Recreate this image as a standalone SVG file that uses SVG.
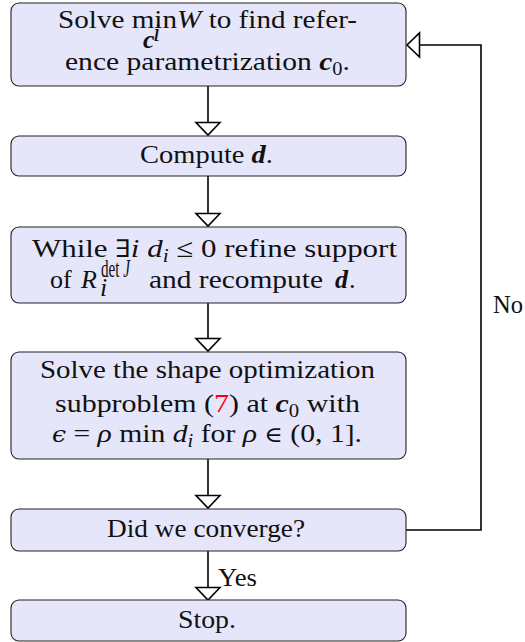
<svg xmlns="http://www.w3.org/2000/svg" width="525" height="642" viewBox="0 0 525 642">
<style>
.box{fill:#e6e6fb;stroke:#222;stroke-width:1.1}
.t{font-family:"Liberation Serif","DejaVu Serif",serif;font-size:26px;fill:#111}
.i{font-style:italic}
.b{font-style:italic;font-weight:bold}
.s{font-size:18px}
.conn{fill:none;stroke:#000;stroke-width:1.6}
</style>
<defs>
<marker id="ah" markerUnits="userSpaceOnUse" markerWidth="16" markerHeight="28" viewBox="0 0 16 28" refX="14" refY="14" orient="auto">
<path d="M1.5,2 L14,14 L1.5,26 Z" fill="#fff" stroke="#000" stroke-width="1.6" stroke-linejoin="miter"/>
</marker>
</defs>
<rect width="525" height="642" fill="#fff"/>
<g id="connectors">
<path class="conn" d="M208,86 V135" marker-end="url(#ah)"/>
<path class="conn" d="M208,176 V226" marker-end="url(#ah)"/>
<path class="conn" d="M208,303 V351" marker-end="url(#ah)"/>
<path class="conn" d="M208,459 V508" marker-end="url(#ah)"/>
<path class="conn" d="M208,551 V600" marker-end="url(#ah)"/>
<path class="conn" d="M406,530 H481 V45 H407" marker-end="url(#ah)"/>
<text class="t" x="218" y="586" textLength="39" lengthAdjust="spacingAndGlyphs">Yes</text>
<text class="t" x="493" y="313" textLength="30" lengthAdjust="spacingAndGlyphs">No</text>
</g>
<g id="n1">
<rect class="box" x="11" y="3" width="395" height="83" rx="8"/>
<text class="t" x="58" y="28" textLength="299" lengthAdjust="spacingAndGlyphs">Solve min<tspan class="i">W</tspan> to find refer-</text>
<text class="t b" x="143" y="48" font-size="16">c</text>
<text class="t i" x="153" y="41" font-size="11">i</text>
<text class="t" x="65" y="70" textLength="285" lengthAdjust="spacingAndGlyphs">ence parametrization <tspan class="b">c</tspan><tspan class="s" dy="5">0</tspan><tspan dy="-5">.</tspan></text>
</g>
<g id="n2">
<rect class="box" x="11" y="136" width="395" height="40" rx="8"/>
<text class="t" x="140" y="163" textLength="133" lengthAdjust="spacingAndGlyphs">Compute <tspan class="b">d</tspan>.</text>
</g>
<g id="n3">
<rect class="box" x="11" y="227" width="395" height="76" rx="8"/>
<text class="t" x="32" y="257" textLength="365" lengthAdjust="spacingAndGlyphs">While <tspan font-family="DejaVu Serif" font-size="24">∃</tspan><tspan class="i">i</tspan> <tspan class="i">d</tspan><tspan class="i s" dy="5">i</tspan><tspan dy="-5"> ≤ 0 refine support</tspan></text>
<text class="t" x="50" y="288">of</text>
<text class="t i" x="81" y="288">R</text>
<text class="t" x="101" y="277" font-size="16" textLength="29" lengthAdjust="spacingAndGlyphs">det <tspan class="i">J</tspan></text>
<text class="t i" x="100" y="296" font-size="16">i</text>
<text class="t" x="149" y="288" textLength="174" lengthAdjust="spacingAndGlyphs">and recompute</text>
<text class="t b" x="335" y="288">d</text>
<text class="t" x="349" y="288">.</text>
</g>
<g id="n4">
<rect class="box" x="11" y="352" width="395" height="107" rx="8"/>
<text class="t" x="40" y="378" textLength="335" lengthAdjust="spacingAndGlyphs">Solve the shape optimization</text>
<text class="t" x="55" y="412" textLength="305" lengthAdjust="spacingAndGlyphs">subproblem (<tspan fill="#ff0000">7</tspan>) at <tspan class="b">c</tspan><tspan class="s" dy="5">0</tspan><tspan dy="-5"> with</tspan></text>
<text class="t" x="52" y="442" textLength="310" lengthAdjust="spacingAndGlyphs"><tspan class="i" font-family="DejaVu Serif" font-size="22">ϵ</tspan> = <tspan class="i">ρ</tspan> min <tspan class="i">d</tspan><tspan class="i s" dy="5">i</tspan><tspan dy="-5"> for </tspan><tspan class="i">ρ</tspan> <tspan font-family="DejaVu Serif" font-size="22">∈</tspan> (0, 1].</text>
</g>
<g id="n5">
<rect class="box" x="11" y="509" width="395" height="42" rx="8"/>
<text class="t" x="107" y="537" textLength="198" lengthAdjust="spacingAndGlyphs">Did we converge?</text>
</g>
<g id="n6">
<rect class="box" x="11" y="600" width="395" height="41" rx="8"/>
<text class="t" x="178" y="628" textLength="58" lengthAdjust="spacingAndGlyphs">Stop.</text>
</g>
</svg>
